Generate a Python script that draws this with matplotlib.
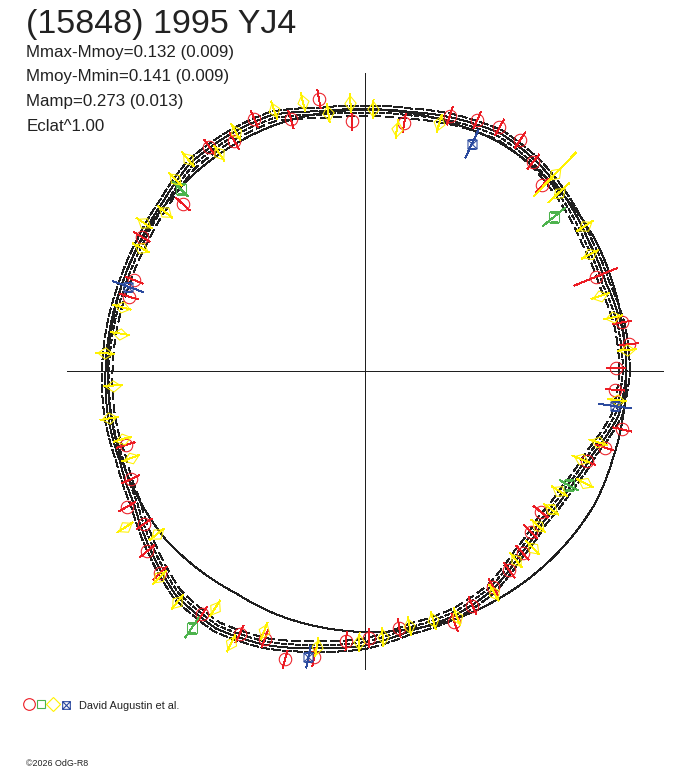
import numpy as np
import matplotlib
matplotlib.use('Agg')
import matplotlib.pyplot as plt
from matplotlib.path import Path
from matplotlib.markers import MarkerStyle
from matplotlib.transforms import Affine2D

plt.rcParams['font.family'] = ['Liberation Sans', 'DejaVu Sans']
plt.rcParams['lines.scale_dashes'] = False

title = '(15848) 1995 YJ4'
info_lines = ['Mmax-Mmoy=0.132 (0.009)', 'Mmoy-Mmin=0.141 (0.009)',
              'Mamp=0.273 (0.013)', 'Eclat^1.00']
observer = 'David Augustin et al.'
credit = '\u00a92026 OdG-R8'

# fitted curve, sampled every 10 deg of phase (radius in plot units)
fit_phase = np.arange(0, 360, 10)
fit_r = [260, 259, 255, 257, 263, 269, 272, 267, 261.5, 260, 262, 271,
         271, 270, 262, 258, 256.5, 257, 258, 259.5, 259.6, 265, 278, 292,
         296, 290, 280, 273, 262, 259, 252, 239, 232, 234, 241, 256]
# reference curve
ref_r = [261, 261.5, 263, 265, 265, 265, 265, 263, 262, 261, 261.5, 262,
         261.5, 261, 260, 259, 258, 257, 257, 258, 259, 260, 261, 259,
         257, 259, 260, 261, 262, 264, 264, 264.5, 265, 265.5, 263, 262]

red_phase = [0.7, 5.8, 10.7, 22.2, 46.3, 51.2, 56.1, 61.1, 65.9, 71.6, 81.0,
             93.0, 99.6, 106.4, 113.7, 119.6, 124.8, 137.5, 149.0, 158.5,
             162.5, 197.2, 204.8, 209.7, 214.7, 219.6, 224.6, 236.2, 244.5,
             249.5, 254.5, 259.9, 266.0, 270.9, 277.6, 289.6, 294.6, 300.7,
             305.9, 310.9, 315.9, 321.3, 337.8, 342.3, 347.2, 355.7]
red_r = [251.0, 265.4, 261.9, 249.2, 256.7, 268.6, 278.2, 278.3, 274.9,
         268.8, 251.4, 250.6, 275.9, 262.4, 275.2, 264.5, 272.5, 247.2,
         260.6, 248.0, 247.4, 250.2, 258.1, 273.7, 268.6, 282.5, 288.0,
         292.7, 291.5, 285.8, 299.2, 290.6, 270.6, 267.3, 259.3, 266.7,
         258.2, 251.5, 245.8, 240.6, 230.8, 225.1, 239.5, 251.7, 263.8, 251.0]
red_err = [9, 9, 9, 23, 9, 9, 9, 9, 9, 9, 9, 9, 9, 9, 9, 9, 9, 9, 9, 9, 9,
           9, 9, 9, 9, 9, 9, 9, 9, 9, 9, 9, 9, 9, 9, 9, 9, 9, 9, 9, 9, 9,
           9, 9, 9, 9]

green_phase = [39.2, 135.4, 236.0, 330.7]
green_r = [244.0, 259.0, 309.5, 233.6]
green_err = [14, 10, 12, 10]

yel_phase = [4.6, 12.2, 17.7, 27.4, 33.4, 42.6, 46.0, 73.3, 82.5, 88.2, 93.1,
             98.1, 103.0, 109.2, 118.4, 123.8, 129.9, 134.7, 141.5, 146.2,
             151.2, 165.3, 171.3, 176.1, 183.3, 190.5, 195.7, 200.4, 213.1,
             218.1, 225.1, 230.9, 237.7, 243.8, 248.8, 260.1, 268.8, 273.8,
             279.9, 285.3, 290.5, 300.2, 308.6, 313.5, 318.2, 323.4, 328.3,
             333.0, 337.8, 343.0, 353.4]
yel_r = [263.1, 254.0, 246.7, 253.5, 263.5, 263.3, 273.5, 258.6, 243.8,
         261.8, 268.7, 260.3, 276.1, 276.3, 272.0, 262.0, 276.4, 269.9,
         255.7, 265.8, 255.7, 251.5, 247.9, 260.6, 252.7, 260.0, 251.7,
         249.9, 286.4, 264.7, 291.3, 297.4, 280.7, 303.5, 278.9, 279.9,
         270.8, 266.9, 258.5, 258.5, 262.3, 256.5, 241.7, 243.6, 232.3,
         231.8, 228.4, 247.0, 233.0, 243.7, 253.4]
yel_err = [9, 9, 9, 9, 9, 14, 30, 9, 9, 9, 9, 9, 9, 9, 9, 9, 9, 9, 9, 9, 9,
           9, 9, 9, 9, 9, 9, 9, 9, 9, 9, 9, 9, 9, 9, 9, 9, 9, 9, 9, 9, 9,
           9, 9, 9, 9, 9, 9, 9, 9, 9]

blue_phase = [64.8, 160.4, 258.8, 352.0]
blue_r = [250.8, 251.3, 291.3, 252.7]
blue_err = [15, 16, 11, 16]

RED = '#ec1c24'
GREEN = '#4db34d'
YELLOW = '#fff200'
BLUE = '#2b4a9e'
INK = '#202020'

W, H = 688, 768
fig = plt.figure(figsize=(W / 100, H / 100), dpi=100)
cx, cy, R = 365, 371, 340
ax = fig.add_axes([(cx - R) / W, (H - cy - R) / H, 2 * R / W, 2 * R / H],
                  projection='polar')
ax.set_rlim(0, R)
ax.set_axis_off()

# cross through the centre
for a in [0, 90, 180, 270]:
    ax.plot([np.radians(a)] * 2, [0, 298], color=INK, lw=0.7,
            antialiased=False)

th = np.radians(np.append(fit_phase, 360))
fit_c = np.append(fit_r, fit_r[0])
ref_c = np.append(ref_r, ref_r[0])
curves = []
ln, = ax.plot(th, ref_c, color=INK, lw=0.7, antialiased=False)
curves.append(ln)
for off, ls in [(5, (0, (6, 2))), (1.5, '-'), (-2, (0, (3, 2))),
                (-5.5, (0, (6, 3)))]:
    ln, = ax.plot(th, fit_c + off, color=INK, lw=0.7, ls=ls,
                  antialiased=False)
    curves.append(ln)
# let the polar transform draw each segment as an arc, not a chord
for ln in curves:
    ln.get_path()._interpolation_steps = 12

diamond = Path([(0, 1), (0.74, 0), (0, -1), (-0.74, 0), (0, 1)],
               [Path.MOVETO, Path.LINETO, Path.LINETO, Path.LINETO,
                Path.CLOSEPOLY])
boxx = Path([(-1, -1), (1, -1), (1, 1), (-1, 1), (-1, -1),
             (-1, -1), (1, 1), (-1, 1), (1, -1)],
            [Path.MOVETO, Path.LINETO, Path.LINETO, Path.LINETO,
             Path.CLOSEPOLY, Path.MOVETO, Path.LINETO, Path.MOVETO,
             Path.LINETO])


def err_bars(phase, r, err, color):
    for p, rr, e in zip(phase, r, err):
        t = np.radians(p)
        ax.plot([t, t], [rr - e, rr + e], color=color, lw=0.7,
                antialiased=False)


err_bars(red_phase, red_r, red_err, RED)
ax.plot(np.radians(red_phase), red_r, 'o', ms=9, mfc='none', mec=RED,
        mew=0.75, antialiased=False)

err_bars(green_phase, green_r, green_err, GREEN)
ax.plot(np.radians(green_phase), green_r, 's', ms=6.8, mfc='none',
        mec=GREEN, mew=0.75, antialiased=False)

err_bars(yel_phase, yel_r, yel_err, YELLOW)
for p, rr in zip(yel_phase, yel_r):
    m = MarkerStyle(diamond, transform=Affine2D().rotate_deg(p - 90))
    ax.plot([np.radians(p)], [rr], marker=m, ms=11, mfc='none',
            mec=YELLOW, mew=0.75, ls='none', antialiased=False)

err_bars(blue_phase, blue_r, blue_err, BLUE)
ax.plot(np.radians(blue_phase), blue_r, marker=boxx, ms=6.5, mfc='none',
        mec=BLUE, mew=0.75, ls='none', antialiased=False)

# overlay in pixel units for texts and legend
ov = fig.add_axes([0, 0, 1, 1])
ov.set_xlim(0, W)
ov.set_ylim(H, 0)
ov.set_axis_off()
ov.patch.set_visible(False)

ov.text(26, 33.3, title, fontsize=24.5, color='#222222', va='baseline')
for i, line in enumerate(info_lines):
    ov.text(26.5, 56.7 + 24.8 * i, line, fontsize=12.2, color='#222222',
            va='baseline')

ov.plot([29.3], [704.3], 'o', ms=8.4, mfc='none', mec=RED, mew=0.8)
ov.plot([41.3], [704.3], 's', ms=6.0, mfc='none', mec=GREEN, mew=0.8)
ov.plot([53.3], [704.3], 'D', ms=7.2, mfc='none', mec=YELLOW, mew=0.8)
ov.plot([66], [705], marker=boxx, ms=5.5, mfc='none', mec=BLUE, mew=0.8,
        ls='none')
ov.text(79, 709.3, observer, fontsize=7.9, color='#222222', va='baseline')
ov.text(26.5, 765.5, credit, fontsize=6.4, color='#222222', va='baseline')

fig.savefig('out.png', dpi=100)
